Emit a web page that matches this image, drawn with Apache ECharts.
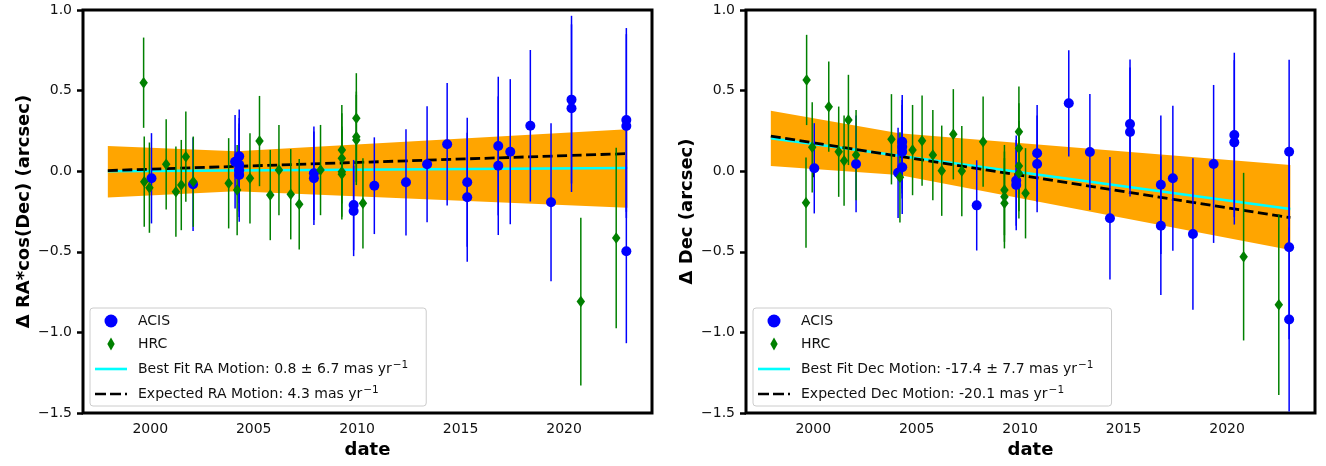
<!DOCTYPE html>
<html>
<head>
<meta charset="utf-8">
<script src="https://cdn.jsdelivr.net/npm/echarts@6/dist/echarts.min.js"></script>
<style>
html,body{margin:0;padding:0;background:#fff;}
#chart{width:1326px;height:466px;}
</style>
</head>
<body>
<div id="chart"></div>
<script>
// ---------- data (year, value [arcsec], error [arcsec]) ----------
const xTicks = [2000, 2005, 2010, 2015, 2020];
const yTicks = [-1.5, -1.0, -0.5, 0.0, 0.5, 1.0];

const raAcis = [
  [2000.06, -0.044, 0.28], [2002.07, -0.081, 0.29],
  [2004.10, 0.059, 0.29], [2004.30, 0.092, 0.29], [2004.30, 0.040, 0.29],
  [2004.30, 0.006, 0.29], [2004.30, -0.024, 0.29],
  [2007.91, -0.013, 0.29], [2007.91, -0.044, 0.29],
  [2009.83, -0.210, 0.28], [2009.83, -0.247, 0.28],
  [2010.83, -0.090, 0.30], [2012.36, -0.069, 0.33], [2013.38, 0.043, 0.36],
  [2014.35, 0.167, 0.38], [2015.32, -0.069, 0.40], [2015.32, -0.162, 0.40],
  [2016.82, 0.156, 0.43], [2016.82, 0.034, 0.43], [2017.40, 0.121, 0.45],
  [2018.37, 0.282, 0.47], [2019.37, -0.193, 0.49],
  [2020.36, 0.444, 0.52], [2020.36, 0.391, 0.52],
  [2023.01, 0.318, 0.57], [2023.01, 0.280, 0.57], [2023.01, -0.497, 0.57]
];
const raHrc = [
  [1999.68, 0.549, 0.28], [1999.71, -0.065, 0.28], [1999.96, -0.102, 0.28],
  [2000.77, 0.043, 0.28], [2001.24, -0.127, 0.28], [2001.50, -0.086, 0.28],
  [2001.72, 0.090, 0.28], [2002.08, -0.065, 0.28], [2003.79, -0.075, 0.28],
  [2004.20, -0.117, 0.28], [2004.82, -0.044, 0.28], [2005.28, 0.187, 0.28],
  [2005.80, -0.148, 0.28], [2006.22, 0.007, 0.28], [2006.79, -0.143, 0.28],
  [2007.20, -0.205, 0.28], [2008.23, 0.007, 0.28],
  [2009.26, 0.131, 0.28], [2009.26, 0.080, 0.28], [2009.26, -0.003, 0.28], [2009.26, -0.019, 0.28],
  [2009.96, 0.328, 0.28], [2009.96, 0.214, 0.28], [2009.96, 0.194, 0.28],
  [2010.28, -0.199, 0.28], [2020.81, -0.809, 0.52], [2022.52, -0.414, 0.56]
];
const decAcis = [
  [2000.05, 0.018, 0.28], [2002.07, 0.045, 0.30],
  [2004.10, -0.010, 0.28], [2004.30, 0.183, 0.29], [2004.30, 0.152, 0.29],
  [2004.30, 0.121, 0.29], [2004.30, 0.024, 0.29],
  [2007.90, -0.212, 0.28], [2009.81, -0.058, 0.28], [2009.81, -0.086, 0.28],
  [2010.82, 0.111, 0.30], [2010.82, 0.045, 0.30],
  [2012.35, 0.421, 0.33], [2013.37, 0.119, 0.36], [2014.34, -0.292, 0.38],
  [2015.31, 0.293, 0.40], [2015.31, 0.243, 0.40],
  [2016.80, -0.084, 0.43], [2016.80, -0.338, 0.43], [2017.38, -0.044, 0.45],
  [2018.35, -0.390, 0.47], [2019.35, 0.045, 0.49],
  [2020.35, 0.225, 0.51], [2020.35, 0.179, 0.51],
  [2023.00, 0.121, 0.57], [2023.00, -0.472, 0.57], [2023.00, -0.920, 0.57]
];
const decHrc = [
  [1999.68, 0.566, 0.28], [1999.65, -0.195, 0.28], [1999.95, 0.148, 0.28],
  [2000.75, 0.400, 0.28], [2001.23, 0.121, 0.28], [2001.49, 0.065, 0.28],
  [2001.70, 0.318, 0.28], [2002.07, 0.100, 0.28], [2003.78, 0.198, 0.28],
  [2004.19, -0.038, 0.28], [2004.80, 0.131, 0.28], [2005.26, 0.189, 0.28],
  [2005.78, 0.100, 0.28], [2006.21, 0.003, 0.28], [2006.77, 0.229, 0.28],
  [2007.18, 0.001, 0.28], [2008.21, 0.183, 0.28],
  [2009.24, -0.117, 0.28], [2009.24, -0.158, 0.28], [2009.24, -0.199, 0.28],
  [2009.94, 0.245, 0.28], [2009.94, 0.142, 0.28], [2009.94, 0.032, 0.28], [2009.94, -0.013, 0.28],
  [2010.26, -0.137, 0.28], [2020.80, -0.530, 0.52], [2022.50, -0.829, 0.56]
];

// fit lines and uncertainty band
const raBestFit   = [[1997.95, 0.000], [2023.06, 0.020]];
const raExpected  = [[1997.95, 0.004], [2023.06, 0.109]];
const decBestFit  = [[1997.95, 0.204], [2023.06, -0.234]];
const decExpected = [[1997.95, 0.218], [2023.06, -0.288]];
const bandYears   = [1997.95, 2004.15, 2023.06];
const raBandUpper  = [0.157, 0.124, 0.260];
const raBandLower  = [-0.163, -0.124, -0.227];
const decBandUpper = [0.375, 0.235, 0.038];
const decBandLower = [0.032, -0.024, -0.489];

const raFitName  = 'Best Fit RA Motion: 0.8 ± 6.7 mas yr⁻¹';
const raExpName  = 'Expected RA Motion: 4.3 mas yr⁻¹';
const decFitName = 'Best Fit Dec Motion: -17.4 ± 7.7 mas yr⁻¹';
const decExpName = 'Expected Dec Motion: -20.1 mas yr⁻¹';

// ---------- chart ----------
const FONT = 'DejaVu Sans';
const BLUE = '#0000ff', GREEN = '#008000', ORANGE = '#ffa500', CYAN = '#00ffff';
const diamondPath = 'path://M4,0L8,7L4,14L0,7Z';
const solidIcon = 'path://M0,0h32v2.6h-32z';
const dashIcon = 'path://M0,0h11v2.6h-11zM15,0h11v2.6h-11zM30,0h2v2.6h-2z';

function errRender(color) {
  return function (params, api) {
    const x = api.value(0), y = api.value(1), e = api.value(2);
    const a = api.coord([x, y + e]), b = api.coord([x, y - e]);
    return { type: 'line', shape: { x1: a[0], y1: a[1], x2: b[0], y2: b[1] },
             style: { stroke: color, lineWidth: 1.5 } };
  };
}
function bandRender(upper, lower) {
  return function (params, api) {
    if (params.dataIndex !== 0) return null;
    const pts = [];
    for (let i = 0; i < bandYears.length; i++) pts.push(api.coord([bandYears[i], upper[i]]));
    for (let i = bandYears.length - 1; i >= 0; i--) pts.push(api.coord([bandYears[i], lower[i]]));
    return { type: 'polygon', shape: { points: pts }, style: { fill: ORANGE } };
  };
}

function panelSeries(idx, acis, hrc, fit, exp, up, lo, fitName, expName) {
  return [
    { type: 'custom', name: 'band' + idx, xAxisIndex: idx, yAxisIndex: idx, z: 1, silent: true,
      renderItem: bandRender(up, lo), data: bandYears.map((t, i) => [t, up[i], lo[i]]), encode: { x: 0, y: 1 } },
    { type: 'line', name: fitName, xAxisIndex: idx, yAxisIndex: idx, z: 2, symbol: 'none',
      color: CYAN, itemStyle: { color: CYAN }, lineStyle: { color: CYAN, width: 2.6 }, data: fit },
    { type: 'line', name: expName, xAxisIndex: idx, yAxisIndex: idx, z: 2, symbol: 'none',
      color: '#000', itemStyle: { color: '#000' }, lineStyle: { color: '#000', width: 2.8, type: [10, 4.5] }, data: exp },
    { type: 'custom', name: 'acisErr' + idx, xAxisIndex: idx, yAxisIndex: idx, z: 3, silent: true,
      renderItem: errRender(BLUE), data: acis, encode: { x: 0, y: 1 } },
    { type: 'custom', name: 'hrcErr' + idx, xAxisIndex: idx, yAxisIndex: idx, z: 3, silent: true,
      renderItem: errRender(GREEN), data: hrc, encode: { x: 0, y: 1 } },
    { type: 'scatter', name: 'ACIS', xAxisIndex: idx, yAxisIndex: idx, z: 4, symbol: 'circle', symbolSize: 10,
      color: BLUE, itemStyle: { color: BLUE, opacity: 1 }, data: acis.map(d => [d[0], d[1]]) },
    { type: 'scatter', name: 'HRC', xAxisIndex: idx, yAxisIndex: idx, z: 5, symbol: diamondPath, symbolSize: [8.5, 11.5],
      color: GREEN, itemStyle: { color: GREEN, opacity: 1 }, data: hrc.map(d => [d[0], d[1]]) }
  ];
}

function xAxisOpt(idx) {
  return {
    type: 'value', gridIndex: idx, min: 1996.75, max: 2024.25,
    name: 'date', nameLocation: 'middle', nameGap: 28,
    nameTextStyle: { fontFamily: FONT, fontSize: 18, fontWeight: 'bold', color: '#000' },
    axisLine: { show: false }, splitLine: { show: false },
    axisTick: { show: true, inside: false, length: 6, customValues: xTicks, lineStyle: { color: '#000', width: 2.5 } },
    axisLabel: { customValues: xTicks, margin: 9, fontFamily: FONT, fontSize: 14, color: '#111', formatter: v => String(v) }
  };
}
function yAxisOpt(idx, name) {
  return {
    type: 'value', gridIndex: idx, min: -1.5, max: 1.0, interval: 0.5,
    name: name, nameLocation: 'middle', nameGap: 50,
    nameTextStyle: { fontFamily: FONT, fontSize: 18, fontWeight: 'bold', color: '#000' },
    axisLine: { show: false }, splitLine: { show: false },
    axisTick: { show: true, inside: false, length: 6, lineStyle: { color: '#000', width: 2.5 } },
    axisLabel: { margin: 11, fontFamily: FONT, fontSize: 14, color: '#111',
      formatter: v => v.toFixed(1).replace('-', '\u2212') }
  };
}
function legendOpt(left, fitName, expName) {
  return {
    left: left, top: 308, orient: 'vertical', itemWidth: 32, itemHeight: 13, itemGap: 9,
    padding: [6, 18, 5, 5], selectedMode: false,
    backgroundColor: 'rgba(255,255,255,0.8)', borderColor: '#cccccc', borderWidth: 1, borderRadius: 3,
    formatter: n => n.replace('⁻¹', '{sup|\u22121}'),
    textStyle: { fontFamily: FONT, fontSize: 14, color: '#111', padding: [0, 0, 0, 6],
      rich: { sup: { fontFamily: FONT, fontSize: 10.5, color: '#111', padding: [0, 0, 7, 1] } } },
    data: [ { name: 'ACIS', icon: 'circle' }, { name: 'HRC', icon: diamondPath },
            { name: fitName, icon: solidIcon }, { name: expName, icon: dashIcon } ]
  };
}

const chart = echarts.init(document.getElementById('chart'), null, { renderer: 'canvas' });
chart.setOption({
  animation: false,
  backgroundColor: '#fff',
  grid: [
    { left: 83, top: 10, width: 569, height: 403, show: true, borderColor: '#000', borderWidth: 3, backgroundColor: 'transparent' },
    { left: 746, top: 10, width: 569, height: 403, show: true, borderColor: '#000', borderWidth: 3, backgroundColor: 'transparent' }
  ],
  xAxis: [xAxisOpt(0), xAxisOpt(1)],
  yAxis: [yAxisOpt(0, 'Δ RA*cos(Dec) (arcsec)'), yAxisOpt(1, 'Δ Dec (arcsec)')],
  legend: [legendOpt(90, raFitName, raExpName), legendOpt(753, decFitName, decExpName)],
  series: [].concat(
    panelSeries(0, raAcis, raHrc, raBestFit, raExpected, raBandUpper, raBandLower, raFitName, raExpName),
    panelSeries(1, decAcis, decHrc, decBestFit, decExpected, decBandUpper, decBandLower, decFitName, decExpName)
  )
});
</script>
</body>
</html>
